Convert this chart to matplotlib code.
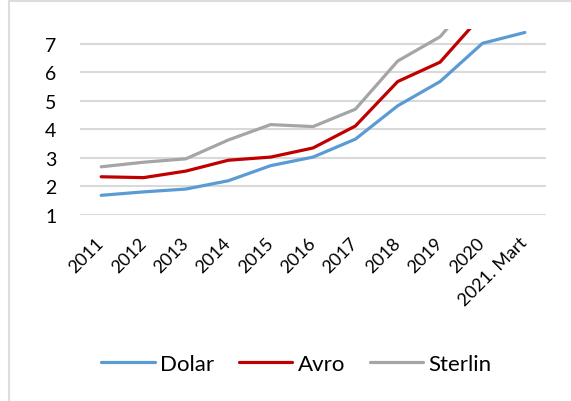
import matplotlib.pyplot as plt
from matplotlib.patches import Rectangle

plt.rcParams['font.family'] = ['Lato', 'DejaVu Sans']

years = ['2011', '2012', '2013', '2014', '2015', '2016', '2017', '2018', '2019', '2020', '2021. Mart']
dolar = [1.68, 1.80, 1.90, 2.19, 2.72, 3.02, 3.65, 4.82, 5.67, 7.01, 7.39]
avro = [2.33, 2.30, 2.53, 2.91, 3.02, 3.34, 4.11, 5.67, 6.35, 8.02, 8.90]
sterlin = [2.68, 2.84, 2.96, 3.62, 4.16, 4.09, 4.70, 6.39, 7.24, 8.98, 10.30]

fig = plt.figure(figsize=(5.71, 4.02), dpi=100)
ax = fig.add_axes([80 / 571, 1 - 215.7 / 402, 466 / 571, (215.7 - 29.5) / 402])

x = range(len(years))
ax.plot(x, dolar, color='#5b9bd5', lw=2.3, label='Dolar', solid_capstyle='round')
ax.plot(x, avro, color='#c00000', lw=2.3, label='Avro', solid_capstyle='round')
ax.plot(x, sterlin, color='#a5a5a5', lw=2.3, label='Sterlin', solid_capstyle='round')

ax.set_xlim(-0.5, len(years) - 0.5)
ax.set_ylim(1, 7.53)
ax.set_yticks(range(1, 8))
ax.yaxis.grid(True, color='#d9d9d9', lw=1.5)
ax.set_axisbelow(True)
for s in ax.spines.values():
    s.set_visible(False)

ax.tick_params(axis='y', length=0, pad=17, labelsize=14)
ax.tick_params(axis='x', length=0, pad=18, labelsize=13)
ax.set_xticks(list(x))
ax.set_xticklabels(years, rotation=45, ha='right', va='center', rotation_mode='anchor')

fig.legend(loc='center', bbox_to_anchor=(296.5 / 571, 1 - 365 / 402), ncol=3, frameon=False,
           fontsize=16, handlelength=2.4, handletextpad=0.25, columnspacing=1.1)

# light chart border (only top and left visible in the crop)
fig.patches.append(Rectangle((8.5 / 571, -0.1), 1.2, 1.1 - 2 / 402, transform=fig.transFigure,
                             fill=False, edgecolor='#dddddd', lw=1.5))

plt.savefig('out.png', dpi=100)
